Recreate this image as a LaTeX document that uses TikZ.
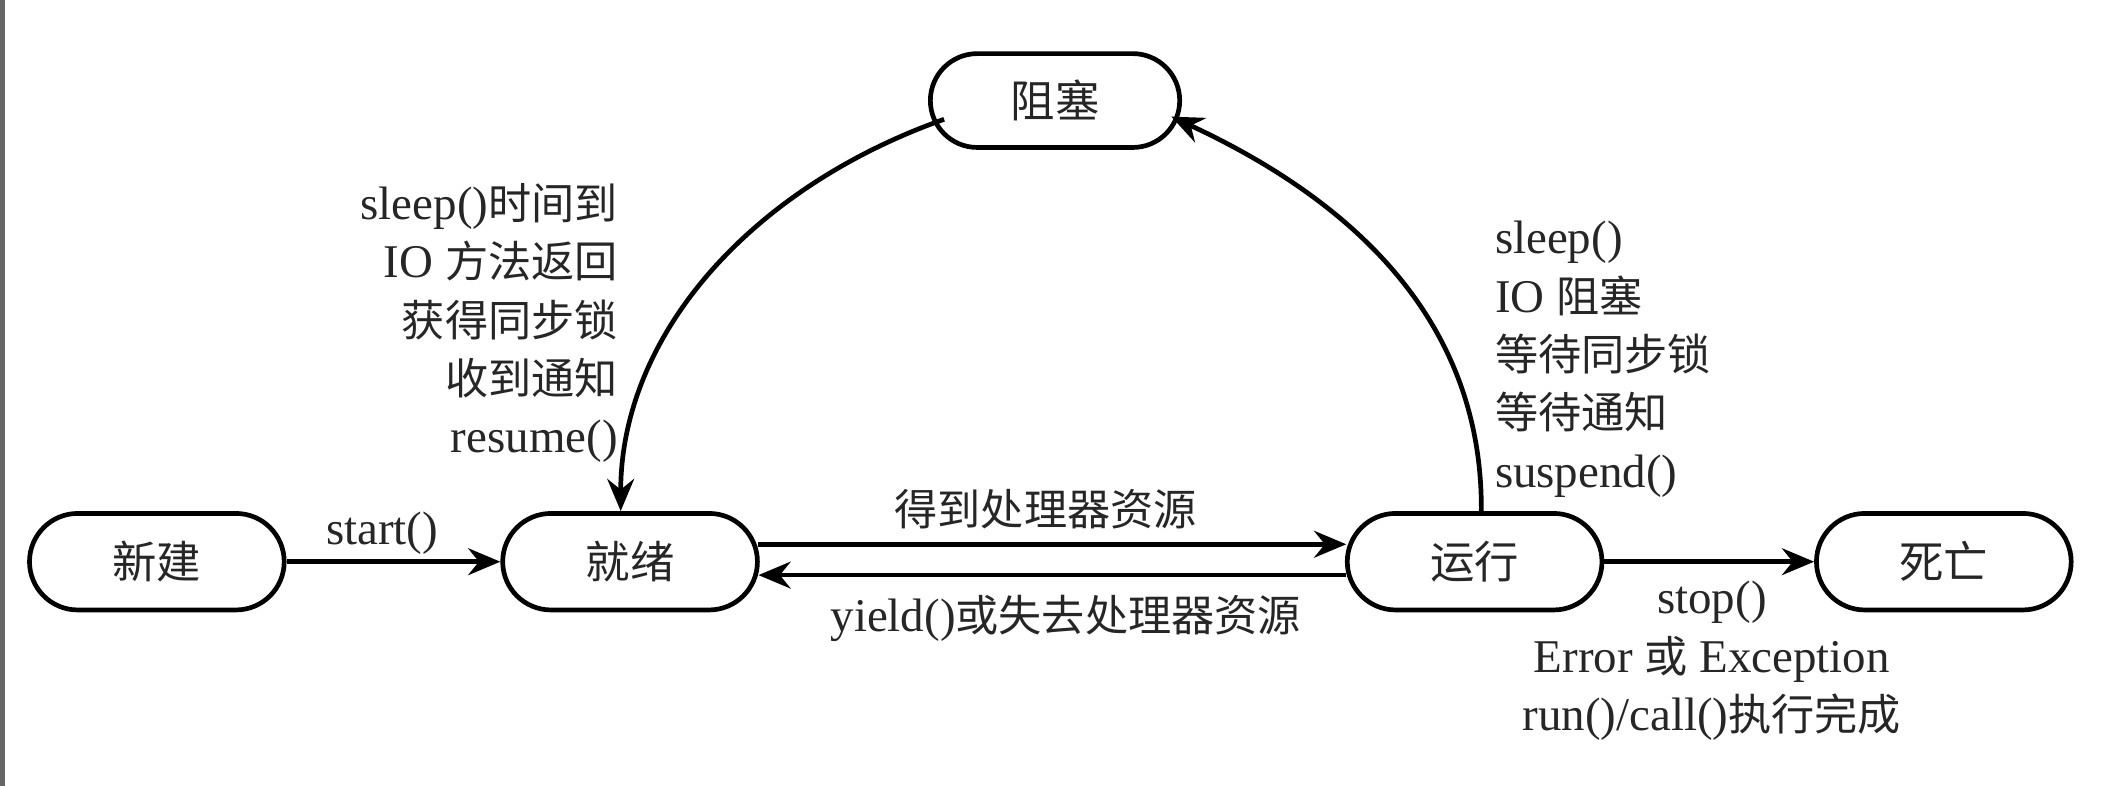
\documentclass[tikz,border=0pt]{standalone}
\usepackage{fontspec}
\setmainfont{Liberation Serif}
\newfontfamily\cjk[Scale=0.92]{Noto Sans CJK SC}
\usetikzlibrary{arrows.meta,calc}
\begin{document}
\begin{tikzpicture}[x=1pt,y=-1pt,
  state/.style={draw=black, line width=3.5pt, minimum width=190pt, minimum height=72pt,
    rounded corners=36pt, inner sep=0pt, font=\fontsize{36}{40}\selectfont\cjk, text=black!85},
  lbl/.style={inner sep=0pt, font=\fontsize{35}{43.5}\selectfont, text=black!85},
  conn/.style={line width=3.5pt, -{Stealth[length=24pt,width=20pt,inset=8pt]}}
]
\useasboundingbox (0,0) rectangle (1568,586);
\fill[black!60] (0,0) rectangle (4,586);

\node[state] (xin) at (117,419) {新建};
\node[state] (jiu) at (470,419) {就绪};
\node[state] (yun) at (1100,419) {运行};
\node[state] (si)  at (1450,419) {死亡};
\node[state, minimum width=186pt, minimum height=70pt, rounded corners=35pt] (zu) at (787,75) {阻塞};

% start()
\draw[conn] (xin.east) -- (jiu.west);
\node[lbl] (lstart) at (285,398) {start()};

% ready <-> running
\coordinate (jr1) at ($(jiu.east)+(-1,-13)$);
\coordinate (yl1) at ($(yun.west)+(1,-13)$);
\coordinate (jr2) at ($(jiu.east)+(-1,10)$);
\coordinate (yl2) at ($(yun.west)+(1,10)$);
\draw[conn] (jr1) -- (yl1);
\draw[conn] (yl2) -- (jr2);
\node[lbl] (lget) at (780,380) {\cjk 得到处理器资源};
\node[lbl] (lyield) at (795,461) {yield()\cjk 或失去处理器资源};

% running -> dead
\draw[conn] (yun.east) -- (si.west);
\node[lbl, align=center] (lstop) at (1277,493) {stop()\\Error {\cjk 或} Exception\\run()/call(){\cjk 执行完成}};

% blocked -> ready
\coordinate (zl) at ($(zu.west)+(12,14)$);
\coordinate (jt) at ($(jiu.north)+(-7,0)$);
\draw[conn] (zl) .. controls (560,140) and (463,250) .. (jt);
\node[lbl, align=right, anchor=east] (lleft) at (461,241) {sleep(){\cjk 时间到}\\IO {\cjk 方法返回}\\{\cjk 获得同步锁}\\{\cjk 收到通知}\\resume()};

% running -> blocked
\coordinate (yt) at ($(yun.north)+(5,0)$);
\coordinate (zr) at ($(zu.east)+(-8,12)$);
\draw[conn] (yt) .. controls (1106,240) and (1010,150) .. (zr);
\node[lbl, align=left, anchor=west] (lright) at (1115,268) {sleep()\\IO {\cjk 阻塞}\\{\cjk 等待同步锁}\\{\cjk 等待通知}\\suspend()};
\end{tikzpicture}
\end{document}
